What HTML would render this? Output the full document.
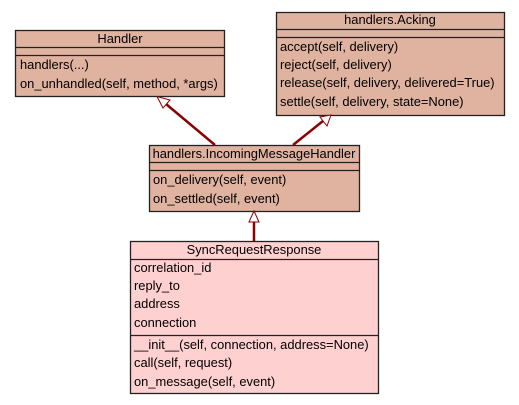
<!DOCTYPE html>
<html><head><style>body{margin:0;background:#fff}svg{display:block}text{font-family:"Liberation Sans",sans-serif;font-size:12.9px;fill:#000}</style></head><body>
<svg width="519" height="405" viewBox="0 0 519 405">
<g stroke="#222" stroke-width="1.3">
<rect x="15.5" y="30.5" width="209" height="66" fill="#e0b2a0"/>
<line x1="15" y1="47.5" x2="225" y2="47.5"/><line x1="15" y1="55.5" x2="225" y2="55.5"/>
<rect x="276.5" y="12.5" width="228" height="103" fill="#e0b2a0"/>
<line x1="276" y1="29.5" x2="505" y2="29.5"/><line x1="276" y1="37.5" x2="505" y2="37.5"/>
<rect x="149.5" y="145.5" width="210" height="66" fill="#e0b2a0"/>
<line x1="149" y1="162.5" x2="360" y2="162.5"/><line x1="149" y1="170.5" x2="360" y2="170.5"/>
<rect x="130.5" y="241.5" width="248" height="152" fill="#ffd0d0"/>
<line x1="130" y1="259.5" x2="379" y2="259.5"/><line x1="130" y1="335.5" x2="379" y2="335.5"/>
</g>
<g stroke="#8b0000" stroke-width="2.5" fill="none">
<line x1="215" y1="145" x2="166" y2="104"/>
<line x1="293" y1="145" x2="323" y2="121"/>
<line x1="254" y1="241" x2="254" y2="222"/>
</g>
<g stroke="#8b0000" stroke-width="1" fill="#fff">
<polygon points="157,96.5 170,100 163,108"/>
<polygon points="331,115 327,126 320,117"/>
<polygon points="254,211 259,222 249,222"/>
</g>
<text x="120" y="43" text-anchor="middle">Handler</text>
<text x="20" y="69">handlers(...)</text>
<text x="20" y="88">on_unhandled(self, method, *args)</text>
<text x="390" y="24" text-anchor="middle">handlers.Acking</text>
<text x="280" y="51">accept(self, delivery)</text>
<text x="280" y="69">reject(self, delivery)</text>
<text x="280" y="87">release(self, delivery, delivered=True)</text>
<text x="280" y="106">settle(self, delivery, state=None)</text>
<text x="254" y="158" text-anchor="middle">handlers.IncomingMessageHandler</text>
<text x="153" y="184">on_delivery(self, event)</text>
<text x="153" y="203">on_settled(self, event)</text>
<text x="254" y="254" text-anchor="middle">SyncRequestResponse</text>
<text x="134" y="272">correlation_id</text>
<text x="134" y="290">reply_to</text>
<text x="134" y="308">address</text>
<text x="134" y="327">connection</text>
<text x="134" y="349">__init__(self, connection, address=None)</text>
<text x="134" y="367">call(self, request)</text>
<text x="134" y="386">on_message(self, event)</text>
</svg>
</body></html>
